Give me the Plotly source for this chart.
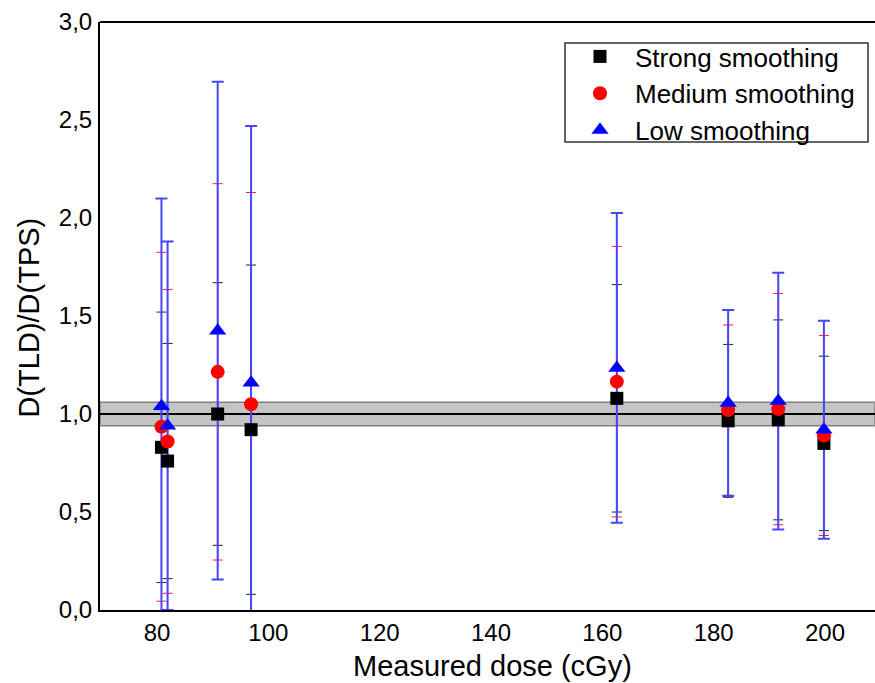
import plotly.graph_objects as go

# ---- data ----
dose = [80.8, 81.9, 90.9, 96.9, 162.6, 182.6, 191.6, 199.8]

strong = [0.83, 0.76, 1.00, 0.92, 1.08, 0.965, 0.97, 0.85]
strong_err = [0.69, 0.60, 0.67, 0.84, 0.58, 0.39, 0.51, 0.445]

medium = [0.935, 0.86, 1.215, 1.05, 1.165, 1.02, 1.025, 0.89]
medium_err = [0.89, 0.775, 0.96, 1.08, 0.69, 0.434, 0.59, 0.51]

low = [1.04, 0.94, 1.425, 1.16, 1.235, 1.056, 1.066, 0.92]
low_err = [1.06, 0.94, 1.27, 1.31, 0.79, 0.474, 0.655, 0.556]

series_names = ["Strong smoothing", "Medium smoothing", "Low smoothing"]

x_ticks = [80, 100, 120, 140, 160, 180, 200]
y_ticks = [0.0, 0.5, 1.0, 1.5, 2.0, 2.5, 3.0]
y_ticktext = ["0,0", "0,5", "1,0", "1,5", "2,0", "2,5", "3,0"]

x_title = "Measured dose (cGy)"
y_title = "D(TLD)/D(TPS)"

ref_value = 1.0
ref_tol = 0.06

FONT = "Liberation Sans, Arial, sans-serif"

# figure geometry (pixels)
W, H = 875, 683
ML, MR, MT, MB = 100, 0, 22, 73
PW, PH = W - ML - MR, H - MT - MB


def px_x(px):
    return (px - ML) / PW


def px_y(py):
    return (H - MB - py) / PH


series = [
    (series_names[0], strong, strong_err, "black", "square", 13, "#222222", 5, 1),
    (series_names[1], medium, medium_err, "red", "circle", 14, "#ff2020", 5, 1),
    (series_names[2], low, low_err, "blue", "triangle-up", 15, "#4646ff", 6, 2),
]

fig = go.Figure()

# error bars first (under all markers)
for name, vals, errs, col, sym, size, ecol, ew, eth in series:
    fig.add_trace(go.Scatter(
        x=dose, y=vals, mode="markers",
        marker=dict(size=1, color="rgba(0,0,0,0)"),
        error_y=dict(type="data", array=errs, arrayminus=errs, symmetric=False,
                     color=ecol, thickness=eth, width=ew),
        showlegend=False, hoverinfo="skip",
    ))

# markers
for name, vals, errs, col, sym, size, ecol, ew, eth in series:
    fig.add_trace(go.Scatter(
        x=dose, y=vals, mode="markers", name=name,
        marker=dict(symbol=sym, size=size, color=col, line=dict(width=0)),
    ))

# reference band
fig.add_shape(type="rect", xref="paper", yref="y", x0=0, x1=1,
              y0=ref_value - ref_tol, y1=ref_value + ref_tol,
              fillcolor="#c4c4c4", line=dict(color="#808080", width=1.5), layer="below")
fig.add_shape(type="line", xref="paper", yref="y", x0=0, x1=1,
              y0=ref_value, y1=ref_value, line=dict(color="black", width=2), layer="below")
# top frame line
fig.add_shape(type="line", xref="paper", yref="paper", x0=0, x1=1, y0=1, y1=1,
              line=dict(color="black", width=2))
# legend frame
fig.add_shape(type="rect", xref="paper", yref="paper",
              x0=px_x(565), x1=px_x(868), y0=px_y(142), y1=px_y(43),
              fillcolor="white", line=dict(color="#333333", width=1.5), layer="above")

# axis titles
fig.add_annotation(text=x_title, xref="paper", yref="paper",
                   x=px_x(492), y=px_y(666), xanchor="center", yanchor="middle",
                   showarrow=False, font=dict(size=29, family=FONT, color="black"))
fig.add_annotation(text=y_title, xref="paper", yref="paper",
                   x=px_x(28.5), y=px_y(318), xanchor="center", yanchor="middle",
                   textangle=-90, showarrow=False,
                   font=dict(size=29, family=FONT, color="black"))

fig.update_layout(
    width=W, height=H,
    margin=dict(l=ML, r=MR, t=MT, b=MB, autoexpand=False),
    paper_bgcolor="white", plot_bgcolor="white",
    font=dict(family=FONT, color="black"),
    showlegend=True,
    legend=dict(x=px_x(565), y=px_y(33), xanchor="left", yanchor="top",
                bgcolor="rgba(0,0,0,0)", borderwidth=0,
                font=dict(size=26, family=FONT), itemwidth=60,
                tracegroupgap=0),
    xaxis=dict(range=[69.76, 208.98], tickvals=x_ticks, ticks="",
               showline=True, linecolor="black", linewidth=2,
               showgrid=False, zeroline=False, automargin=False,
               tickfont=dict(size=24), ticklabelstandoff=0),
    yaxis=dict(range=[0, 3], tickvals=y_ticks, ticktext=y_ticktext, ticks="",
               showline=True, linecolor="black", linewidth=2,
               showgrid=False, zeroline=False, automargin=False,
               tickfont=dict(size=24), ticklabelstandoff=1),
)

fig.write_html("out.html",
               config={"displayModeBar": False},
               post_script="document.body.style.margin='0';document.body.style.padding='0';")
